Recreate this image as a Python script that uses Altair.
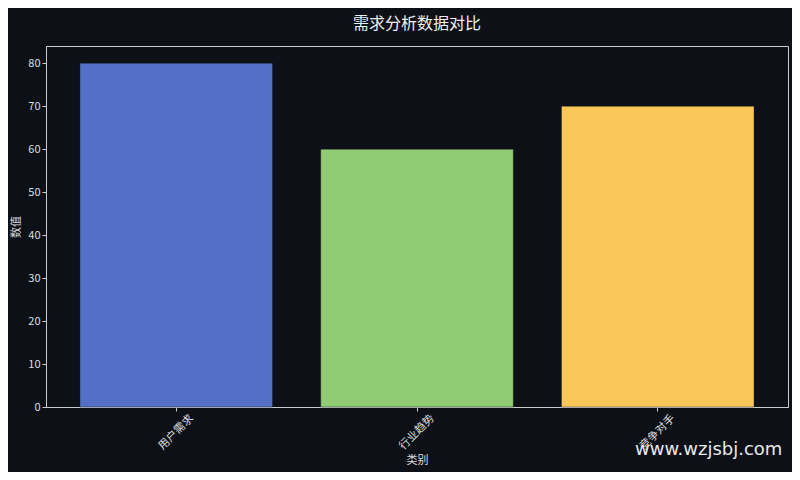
import altair as alt
import pandas as pd

categories = ["用户需求", "行业趋势", "竞争对手"]
values = [80, 60, 70]
colors = ["#5470c6", "#91cc75", "#fac858"]

df = pd.DataFrame({"类别": categories, "数值": values, "color": colors})

FONT = "Noto Sans CJK SC"
BG = "#0d1017"
FG = "#dddddd"

bars = alt.Chart(df).mark_bar(
    opacity=1, stroke="#0d1017", strokeOpacity=0.4, strokeWidth=1
).encode(
    x=alt.X("类别:N", sort=categories,
            scale=alt.Scale(paddingInner=0.2, paddingOuter=0.141),
            axis=alt.Axis(title="类别", labelAngle=-45, labelAlign="center",
                          labelBaseline="middle", labelPadding=21,
                          titlePadding=3)),
    y=alt.Y("数值:Q", scale=alt.Scale(domain=[0, 84], nice=False),
            axis=alt.Axis(title="数值", values=[0, 10, 20, 30, 40, 50, 60, 70, 80],
                          titlePadding=6)),
    color=alt.Color("color:N", scale=None),
)

wm = alt.Chart(pd.DataFrame({"t": ["www.wzjsbj.com"]})).mark_text(
    font="DejaVu Sans", fontSize=18, color="#e8e8e8", align="left",
    baseline="middle"
).encode(text="t:N", x=alt.value(589), y=alt.value(404))

chart = alt.layer(bars, wm).properties(
    width=742, height=361,
    background=BG,
    padding={"left": 38, "top": 38, "right": 4, "bottom": 65},
    autosize=alt.AutoSizeParams(type="none"),
    title=alt.TitleParams("需求分析数据对比", font=FONT, fontSize=16,
                          fontWeight="normal", color="#f0f0f0",
                          anchor="middle", offset=14),
).configure_view(
    stroke="#cccccc", strokeWidth=1
).configure_axis(
    labelFont=FONT, titleFont=FONT, labelColor=FG, titleColor=FG,
    labelFontSize=11, titleFontSize=11, titleFontWeight="normal",
    domainColor="#cccccc", tickColor="#cccccc", grid=False,
    tickSize=4,
)

chart.save("out.html", embed_options={"renderer": "svg", "actions": False})
